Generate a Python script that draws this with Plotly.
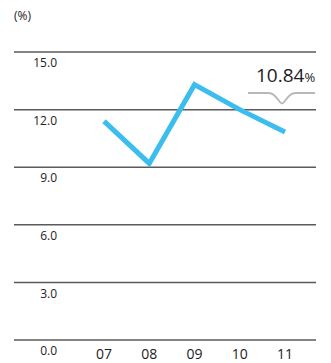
import plotly.graph_objects as go

# Fiscal years and ratio (%)
years = ["07", "08", "09", "10", "11"]
ratio = [11.4, 9.2, 13.3, 12.0, 10.84]
y_ticks = [0.0, 3.0, 6.0, 9.0, 12.0, 15.0]
y_tick_text = ["0.0", "3.0", "6.0", "9.0", "12.0", "15.0"]

FONT = "Open Sans"
LINE_BLUE = "#3bbdee"
GRID = "#5a5a5a"

xs = list(range(len(years)))

fig = go.Figure()
fig.add_trace(go.Scatter(
    x=xs, y=ratio, mode="lines",
    line=dict(color=LINE_BLUE, width=5),
    hoverinfo="skip", showlegend=False,
))

# Horizontal rules at each tick, extending left past the plot area
for v in y_ticks:
    fig.add_shape(type="line", xref="paper", yref="y",
                  x0=-0.189, x1=1, y0=v, y1=v,
                  line=dict(color=GRID, width=1.5), layer="below")

# Callout for the latest value: bracket with a notch pointing at the point
lx, lv = xs[-1], ratio[-1]
px_x = 45.25   # pixels per category
px_y = 19.2    # pixels per unit
def dx(p):
    return lx + p / px_x
base = 39      # bracket height above the point, px
notch = 10.5   # notch depth, px
top = lv + base / px_y
low = lv + (base - notch) / px_y
path = (
    f"M {dx(-37)},{top} "
    f"L {dx(-16)},{top} "
    f"C {dx(-9)},{top} {dx(-6)},{low} {dx(-3)},{low} "
    f"C {dx(0)},{low} {dx(3)},{top} {dx(10)},{top} "
    f"L {dx(30)},{top}"
)
fig.add_shape(type="path", xref="x", yref="y", path=path,
              line=dict(color="#b8b8b8", width=2))

fig.add_annotation(
    x=lx, y=lv, xref="x", yref="y",
    text=f"{lv:.2f}<span style='font-size:13px'>%</span>",
    showarrow=False, yshift=57, xshift=0,
    font=dict(family=FONT, size=19, color="#222222"),
)

W, H = 331, 363
ml, mr, mt, mb = 62, 15, 30, 22

fig.add_annotation(
    x=(12 - ml) / (W - ml - mr), y=1 + (mt - 15) / (H - mt - mb),
    xref="paper", yref="paper", text="(%)",
    showarrow=False, xanchor="left", yanchor="middle",
    font=dict(family=FONT, size=12, color="#222222"),
)

fig.update_layout(
    width=W, height=H,
    margin=dict(l=ml, r=mr, t=mt, b=mb, autoexpand=False),
    paper_bgcolor="white", plot_bgcolor="white",
    font=dict(family=FONT, color="#222222"),
    xaxis=dict(
        range=[-0.928, 4.685], tickmode="array", tickvals=xs, ticktext=years,
        showgrid=False, zeroline=False, showline=False,
        ticks="", ticklabelstandoff=3,
        tickfont=dict(family=FONT, size=14, color="#222222"),
        fixedrange=True, automargin=False,
    ),
    yaxis=dict(
        range=[-0.05, 16.148], tickmode="array", tickvals=y_ticks, ticktext=y_tick_text,
        showgrid=False, zeroline=False, showline=False,
        ticks="", ticklabelshift=11, ticklabelstandoff=4,
        tickfont=dict(family=FONT, size=12, color="#222222"),
        fixedrange=True, automargin=False,
    ),
)

fig.write_html("out.html")
